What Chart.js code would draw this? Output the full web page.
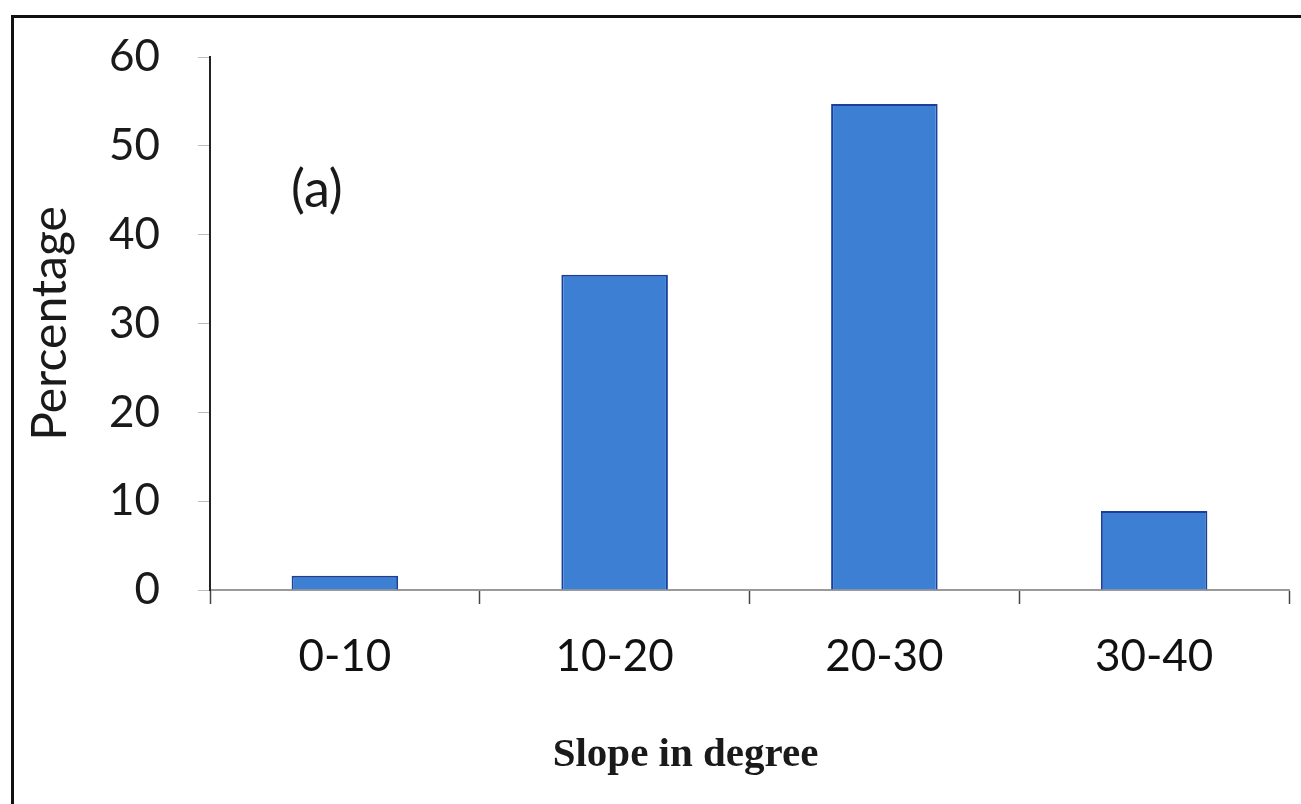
<!DOCTYPE html>
<html><head><meta charset="utf-8">
<script src="https://cdn.jsdelivr.net/npm/chart.js@4.4.0/dist/chart.umd.min.js"></script>
<style>
html,body{margin:0;padding:0;background:#fff;overflow:hidden;}
#wrap{position:relative;width:1301px;height:804px;overflow:hidden;}
#frame{position:absolute;left:11px;top:15px;width:1400px;height:900px;border:3px solid #111;pointer-events:none;}
canvas{position:absolute;left:0;top:0;}
</style></head><body>
<div id="wrap"><div id="frame"></div><canvas id="c" width="1301" height="804"></canvas></div>
<script>
const categories = ['0-10', '10-20', '20-30', '30-40'];
const percentages = [1.6, 35.5, 54.7, 8.9];
const yMin = 0, yMax = 60, yStep = 10;
const panelLabel = '(a)';
const xTitle = 'Slope in degree';
const yTitle = 'Percentage';

const textPlugin = {
  id: 'texts',
  afterDraw(chart) {
    const ctx = chart.ctx;
    const xs = chart.scales.x, ys = chart.scales.y;
    ctx.save();
    ctx.fillStyle = '#1a1a1a';
    ctx.font = '52px Lato';
    ctx.textAlign = 'center';
    ctx.textBaseline = 'middle';
    ctx.fillText(panelLabel, xs.getPixelForValue(0) - 28, ys.getPixelForValue(45));
    ctx.font = 'bold 41px "Liberation Serif"';
    ctx.textBaseline = 'alphabetic';
    ctx.fillText(xTitle, (xs.left + xs.right) / 2 - 64, 766);
    ctx.restore();
  }
};

new Chart(document.getElementById('c'), {
  type: 'bar',
  data: {
    labels: categories,
    datasets: [{
      data: percentages,
      backgroundColor: '#3d80d3',
      borderColor: '#1b3f9c',
      borderWidth: 2,
      borderSkipped: 'bottom',
      barPercentage: 0.395,
      categoryPercentage: 1.0
    }]
  },
  options: {
    responsive: false,
    animation: false,
    devicePixelRatio: 1,
    layout: { padding: { left: 14, top: 57, right: 12, bottom: 0 } },
    plugins: { legend: { display: false }, tooltip: { enabled: false } },
    scales: {
      x: {
        afterFit(s) { s.height = 214; },
        grid: { offset: true, drawOnChartArea: false, tickLength: 14, color: '#444', tickWidth: 1.5 },
        border: { display: true, color: '#9a9a9a', width: 2 },
        ticks: { font: { family: 'Lato', size: 44 }, color: '#111', padding: 26 }
      },
      y: {
        min: yMin, max: yMax,
        afterFit(s) { s.width = 196; },
        grid: { drawOnChartArea: false, tickLength: 12, color: '#bbb', tickWidth: 1 },
        border: { display: true, color: '#222', width: 2 },
        ticks: { stepSize: yStep, font: { family: 'Lato', size: 44, lineHeight: 0.8 }, color: '#1a1a1a', padding: 38 },
        title: { display: true, text: yTitle, font: { family: 'Lato', size: 48 }, color: '#1a1a1a', padding: { top: 8, bottom: 0 } }
      }
    }
  },
  plugins: [textPlugin]
});
</script>
</body></html>
